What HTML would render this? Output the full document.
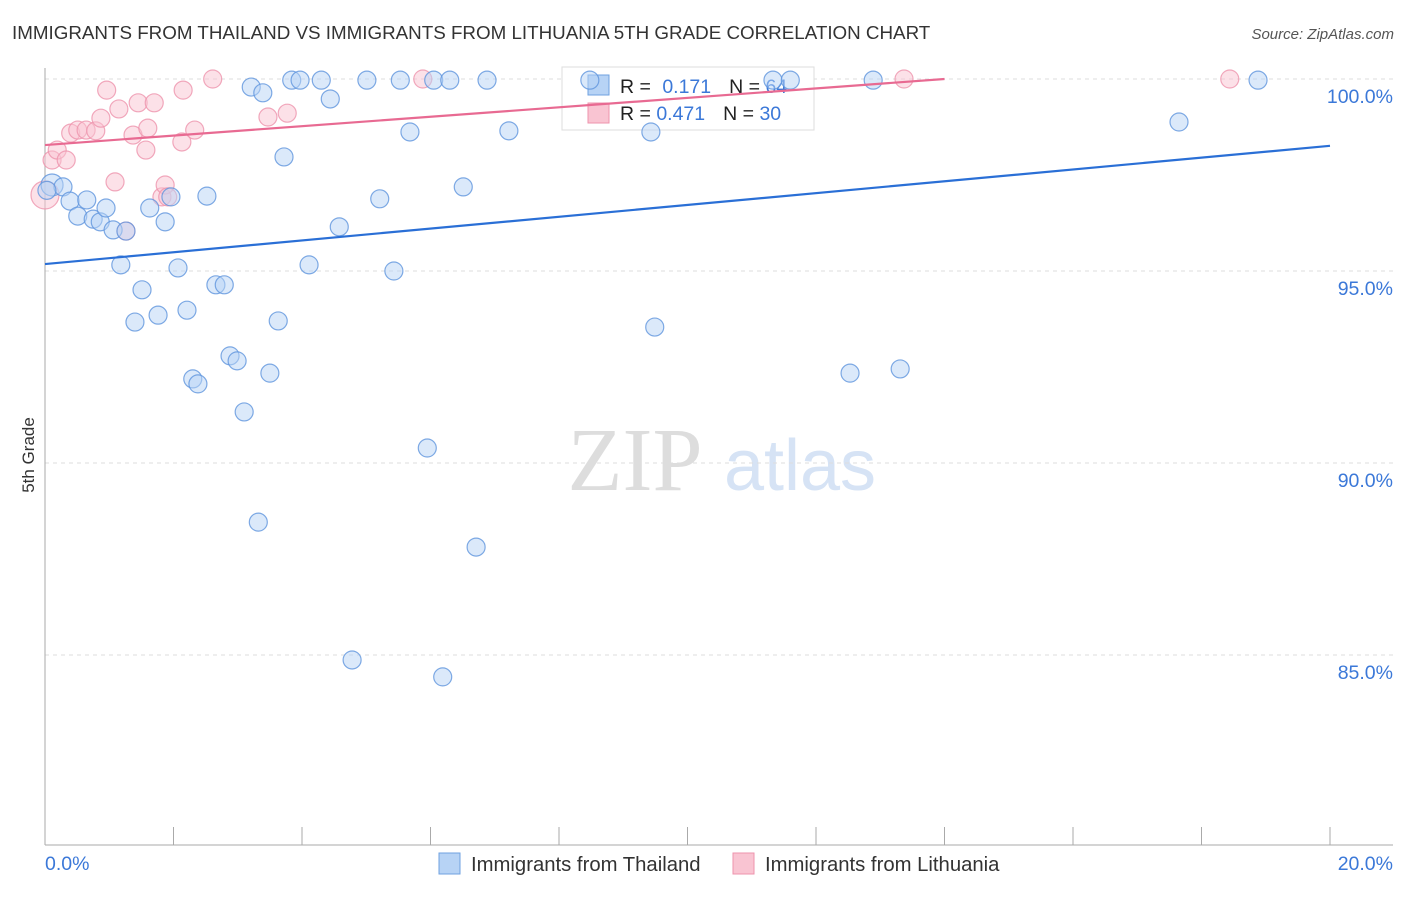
<!DOCTYPE html>
<html><head><meta charset="utf-8"><style>
body{margin:0;background:#fff;font-family:"Liberation Sans",sans-serif}
</style></head><body>
<svg width="1406" height="892" xmlns="http://www.w3.org/2000/svg" id="c">
<text x="12" y="39" font-size="18.8" fill="#333">IMMIGRANTS FROM THAILAND VS IMMIGRANTS FROM LITHUANIA 5TH GRADE CORRELATION CHART</text>
<text x="1394" y="39" font-size="15" fill="#555" text-anchor="end" font-style="italic">Source: ZipAtlas.com</text>
<text x="34" y="455" font-size="17" fill="#333" text-anchor="middle" transform="rotate(-90 34 455)">5th Grade</text>
<g><text x="635" y="490" font-size="90" fill="#ddd" text-anchor="middle" font-family="Liberation Serif,serif">ZIP</text><text x="800" y="490" font-size="72" fill="#d6e3f5" text-anchor="middle">atlas</text></g>
<g id="grid"></g><g id="axes"></g>
<g>
<rect x="562" y="67" width="252" height="63" fill="#fff" stroke="#ddd"/>
<rect x="588" y="75" width="21" height="20" fill="#b7d3f5" stroke="#6fa1e0"/>
<rect x="588" y="103" width="21" height="20" fill="#f9c4d2" stroke="#ee93ac"/>
<text x="620" y="93" font-size="19.5" fill="#222">R = <tspan fill="#3b78d8" dx="6">0.171</tspan><tspan dx="18">N = </tspan><tspan fill="#3b78d8">64</tspan></text>
<text x="620" y="120" font-size="19.5" fill="#222">R = <tspan fill="#3b78d8">0.471</tspan><tspan dx="18">N = </tspan><tspan fill="#3b78d8">30</tspan></text>
</g>
<g id="pts"></g><g id="lines"></g>
<g>
<rect x="439" y="853" width="21" height="21" fill="#b7d3f5" stroke="#6fa1e0"/>
<text x="471" y="871" font-size="20.3" fill="#333">Immigrants from Thailand</text>
<rect x="733" y="853" width="21" height="21" fill="#f9c4d2" stroke="#ee93ac"/>
<text x="765" y="871" font-size="20.3" fill="#333">Immigrants from Lithuania</text>
</g>
</svg>
<script>
const blueX=[0.11,0.28,0.39,0.51,0.65,0.75,0.86,0.95,1.06,1.26,1.18,1.51,1.40,1.63,1.76,1.87,1.96,2.07,2.21,2.30,2.38,2.52,2.66,2.79,2.88,2.99,3.10,3.21,3.32,3.39,3.50,3.63,3.72,3.84,3.97,4.11,4.30,4.44,4.58,4.78,5.01,5.21,5.43,5.53,5.68,5.95,6.05,6.19,6.30,6.51,6.71,6.88,7.22,8.48,9.43,9.49,11.33,11.60,12.53,12.89,13.31,17.65,18.88,0.03];
const blueY=[97.24,97.19,96.82,96.43,96.85,96.35,96.28,96.64,96.07,96.04,95.16,94.51,93.67,96.64,93.85,96.28,96.93,95.08,93.98,92.19,92.06,96.95,94.64,94.64,92.79,92.66,91.33,99.79,88.46,99.64,92.34,93.70,97.97,99.97,99.97,95.16,99.97,99.48,96.15,84.87,99.97,96.88,95.0,99.97,98.62,90.39,99.97,84.43,99.97,97.19,87.81,99.97,98.65,99.97,98.62,93.54,99.97,99.97,92.34,99.97,92.45,98.88,99.97,97.1];
const pinkX=[0.0,0.11,0.19,0.33,0.40,0.51,0.64,0.79,0.87,0.96,1.09,1.15,1.37,1.45,1.57,1.60,1.70,1.82,1.87,2.13,2.15,2.33,2.61,3.47,3.77,5.88,13.37,18.44,1.26,1.91];
const pinkY=[96.98,97.89,98.15,97.89,98.59,98.67,98.67,98.65,98.98,99.71,97.32,99.22,98.54,99.38,98.15,98.72,99.38,96.93,97.24,98.36,99.71,98.67,100,99.01,99.11,100,100,100,96.04,96.93];
const blueTrend=[[0,95.18],[20,98.26]];
const pinkTrend=[[0,98.28],[14.0,100]];
const yTicks=[100,95,90,85];
const xTicks=[0,2,4,6,8,10,12,14,16,18,20];
const NS="http://www.w3.org/2000/svg";
const sx=v=>45+v*64.25, sy=v=>79+(100-v)*38.4;
function mk(t,a,p){const e=document.createElementNS(NS,t);for(const k in a)e.setAttribute(k,a[k]);document.getElementById(p).appendChild(e);return e;}
yTicks.forEach(v=>{
 const l=mk('line',{x1:45,x2:1393,y1:sy(v),y2:sy(v),stroke:'#ddd','stroke-dasharray':'4,4'},'grid');
 
 
 const t=mk('text',{x:1393,y:sy(v)+24,'font-size':19.5,fill:'#3b78d8','text-anchor':'end'},'grid');
 t.textContent=v.toFixed(1)+'%';
 
 
});
const ya=mk('line',{x1:45,x2:45,y1:68,y2:845,stroke:'#aaa'},'axes');


const xa=mk('line',{x1:45,x2:1393,y1:845,y2:845,stroke:'#aaa'},'axes');


xTicks.forEach(v=>{
 const l=mk('line',{x1:sx(v),x2:sx(v),y1:827,y2:845,stroke:'#aaa'},'axes');
 
 
});
[[0,'start',45],[20,'end',1393]].forEach(([v,a,x])=>{
 const t=mk('text',{x:x,y:870,'font-size':19.5,fill:'#3b78d8','text-anchor':a},'axes');
 t.textContent=v.toFixed(1)+'%';
 
 
});
function pts(X,Y,fill,stroke,name){
 X.forEach((x,i)=>{
  const big=(i===0);
  const c=mk('circle',{cx:sx(x),cy:sy(Y[i]),r:big?(name==='point-lithuania'?14:11):9,fill:fill,'fill-opacity':0.5,stroke:stroke,'stroke-width':1.2,'stroke-opacity':0.8},'pts');
  
  
 });
}
pts(pinkX,pinkY,'#f9c4d2','#ee93ac','point-lithuania');
pts(blueX,blueY,'#b7d3f5','#5f95dd','point-thailand');
function tr(T,col,name){
 const l=mk('line',{x1:sx(T[0][0]),y1:sy(T[0][1]),x2:sx(T[1][0]),y2:sy(T[1][1]),stroke:col,'stroke-width':2.2},'lines');
 
 
}
tr(blueTrend,'#2a6fd6','trend-thailand');
tr(pinkTrend,'#e86a92','trend-lithuania');
</script>
</body></html>
